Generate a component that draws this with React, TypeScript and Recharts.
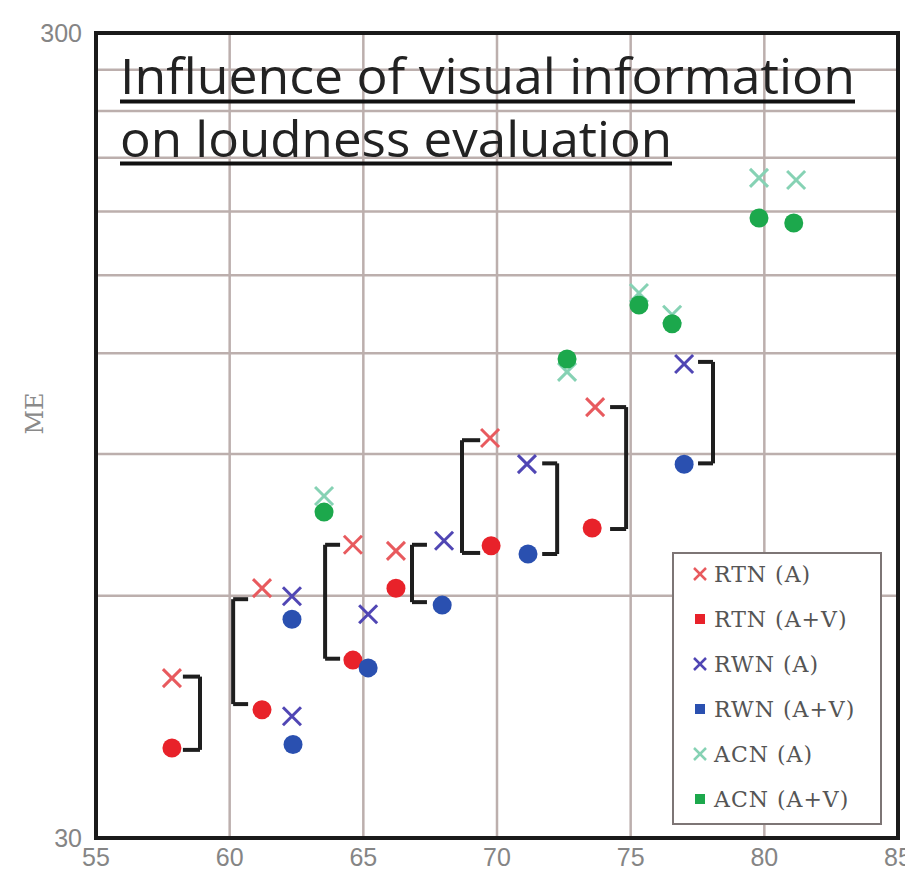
import React from 'react';
import { ScatterChart, Scatter, XAxis, YAxis, CartesianGrid, ReferenceLine, ReferenceArea } from 'recharts';

const xTicks = [55, 60, 65, 70, 75, 80, 85];
const yTicks = [30, 60, 90, 120, 150, 180, 210, 240, 270, 300];
const yLabelTicks = [30, 300];

const rtnA = [
  { x: 57.84, y: 47.4 }, { x: 61.21, y: 61.3 }, { x: 64.61, y: 69.4 },
  { x: 66.22, y: 68.2 }, { x: 69.74, y: 94.2 }, { x: 73.67, y: 102.9 },
];
const rtnAV = [
  { x: 57.84, y: 38.8 }, { x: 61.21, y: 43.3 }, { x: 64.61, y: 49.9 },
  { x: 66.22, y: 61.3 }, { x: 69.78, y: 69.2 }, { x: 73.56, y: 72.8 },
];
const rwnA = [
  { x: 62.33, y: 59.9 }, { x: 62.33, y: 42.5 }, { x: 65.18, y: 56.9 },
  { x: 68.02, y: 70.2 }, { x: 71.12, y: 87.4 }, { x: 77.0, y: 116.4 },
];
const rwnAV = [
  { x: 62.33, y: 56.1 }, { x: 62.37, y: 39.2 }, { x: 65.18, y: 48.8 },
  { x: 67.95, y: 58.4 }, { x: 71.16, y: 67.6 }, { x: 77.0, y: 87.4 },
];
const acnA = [
  { x: 63.53, y: 79.8 }, { x: 72.62, y: 113.8 }, { x: 75.31, y: 142.6 },
  { x: 76.55, y: 134.0 }, { x: 79.8, y: 198.2 }, { x: 81.19, y: 197.0 },
];
const acnAV = [
  { x: 63.53, y: 76.2 }, { x: 72.62, y: 118.1 }, { x: 75.31, y: 137.8 },
  { x: 76.55, y: 130.6 }, { x: 79.8, y: 176.7 }, { x: 81.1, y: 174.2 },
];

// brackets: spine x, arm end x, top y, bottom y
const bracketSpineX = [58.89, 60.13, 63.57, 66.82, 68.69, 72.25, 74.83, 78.08];
const bracketArmX = [58.25, 60.69, 64.13, 67.38, 69.37, 71.69, 74.23, 77.52];
const bracketTop = [47.6, 59.4, 69.4, 69.4, 93.6, 87.6, 102.9, 117.1];
const bracketBottom = [38.6, 44.0, 50.1, 58.9, 67.8, 67.6, 72.6, 87.6];

const titleLines = ['Influence of visual information', 'on loudness evaluation'];
const legendItems = [
  { name: 'RTN (A)', color: '#e85a5e', kind: 'x' },
  { name: 'RTN (A+V)', color: '#e8222a', kind: 'sq' },
  { name: 'RWN (A)', color: '#5046b4', kind: 'x' },
  { name: 'RWN (A+V)', color: '#2a50b0', kind: 'sq' },
  { name: 'ACN (A)', color: '#86d2b4', kind: 'x' },
  { name: 'ACN (A+V)', color: '#1ca84c', kind: 'sq' },
];

const makeCross = (color: string) => (props: any) => {
  const { cx, cy } = props;
  const s = 9;
  return (
    <g>
      <line x1={cx - s} y1={cy - s} x2={cx + s} y2={cy + s} stroke={color} strokeWidth={3} />
      <line x1={cx - s} y1={cy + s} x2={cx + s} y2={cy - s} stroke={color} strokeWidth={3} />
    </g>
  );
};
const makeDot = (color: string) => (props: any) => {
  const { cx, cy } = props;
  return <circle cx={cx} cy={cy} r={9.5} fill={color} />;
};

const YLabel = (props: any) => {
  const { viewBox } = props;
  const x = viewBox.x + 36;
  const y = viewBox.y + viewBox.height / 2 - 22;
  return (
    <text x={x} y={y} transform={`rotate(-90 ${x} ${y})`} textAnchor="middle" dominantBaseline="middle"
      fontFamily="'DejaVu Serif', serif" fontSize={24} fill="#8a8a8a">ME</text>
  );
};

export default function App() {
  const tickStyle = { fontFamily: "'Liberation Sans', sans-serif", fontSize: 25, fill: '#858585' };
  return (
    <div style={{ position: 'absolute', left: 0, top: 0, width: 905, height: 872, background: '#fff', overflow: 'hidden' }}>
      <ScatterChart width={905} height={872} margin={{ top: 33, right: 7, bottom: 0, left: 0 }}>
        <CartesianGrid stroke="#bcafad" strokeWidth={2.5} />
        <XAxis type="number" dataKey="x" domain={[55, 85]} ticks={xTicks} tickLine={false} axisLine={false}
          tickSize={0} tickMargin={10} height={34} tick={tickStyle} interval={0} />
        <YAxis type="number" dataKey="y" scale="log" domain={[30, 300]} ticks={yTicks} allowDataOverflow
          tickLine={false} axisLine={false} tickSize={0} tickMargin={14} width={96} interval={0}
          tick={tickStyle}
          tickFormatter={(v: number) => (yLabelTicks.includes(v) ? String(v) : '')}
          label={<YLabel />} />
        <ReferenceArea x1={55} x2={85} y1={30} y2={300} fill="none" stroke="#1a1a1a" strokeWidth={4} ifOverflow="visible" />
        {bracketSpineX.map((bx, i) => (
          <React.Fragment key={'b' + i}>
            <ReferenceLine segment={[{ x: bx, y: bracketTop[i] }, { x: bx, y: bracketBottom[i] }]} stroke="#1e1e1e" strokeWidth={4} ifOverflow="visible" />
            <ReferenceLine segment={[{ x: bx, y: bracketTop[i] }, { x: bracketArmX[i], y: bracketTop[i] }]} stroke="#1e1e1e" strokeWidth={4} ifOverflow="visible" />
            <ReferenceLine segment={[{ x: bx, y: bracketBottom[i] }, { x: bracketArmX[i], y: bracketBottom[i] }]} stroke="#1e1e1e" strokeWidth={4} ifOverflow="visible" />
          </React.Fragment>
        ))}
        <Scatter name="ACN (A)" data={acnA} shape={makeCross('#86d2b4')} isAnimationActive={false} />
        <Scatter name="ACN (A+V)" data={acnAV} shape={makeDot('#1ca84c')} isAnimationActive={false} />
        <Scatter name="RTN (A)" data={rtnA} shape={makeCross('#e85a5e')} isAnimationActive={false} />
        <Scatter name="RTN (A+V)" data={rtnAV} shape={makeDot('#e8222a')} isAnimationActive={false} />
        <Scatter name="RWN (A)" data={rwnA} shape={makeCross('#5046b4')} isAnimationActive={false} />
        <Scatter name="RWN (A+V)" data={rwnAV} shape={makeDot('#2a50b0')} isAnimationActive={false} />
      </ScatterChart>
      <svg width={905} height={872} style={{ position: 'absolute', left: 0, top: 0, pointerEvents: 'none' }}>
        <text x={120} y={94} fontFamily="'Open Sans', sans-serif" fontSize={50} fill="#222" textLength={735} lengthAdjust="spacingAndGlyphs">{titleLines[0]}</text>
        <line x1={120} y1={101.5} x2={855} y2={101.5} stroke="#111" strokeWidth={4} />
        <text x={120} y={157} fontFamily="'Open Sans', sans-serif" fontSize={50} fill="#222" textLength={552} lengthAdjust="spacingAndGlyphs">{titleLines[1]}</text>
        <line x1={120} y1={163.5} x2={672} y2={163.5} stroke="#111" strokeWidth={4} />
      </svg>
      <div style={{ position: 'absolute', left: 672, top: 552, width: 206, height: 269, border: '2.5px solid #7d7575', background: '#fff', boxSizing: 'content-box' }}>
        {legendItems.map((it, i) => (
          <div key={it.name} style={{ position: 'absolute', left: 0, top: 5 + i * 45, height: 30, display: 'flex', alignItems: 'center' }}>
            <svg width={40} height={30}>
              {it.kind === 'x' ? (
                <g stroke={it.color} strokeWidth={2.5}>
                  <line x1={20} y1={9} x2={32} y2={21} />
                  <line x1={20} y1={21} x2={32} y2={9} />
                </g>
              ) : (
                <rect x={21} y={10} width={10} height={10} fill={it.color} />
              )}
            </svg>
            <span style={{ fontFamily: "'DejaVu Serif', serif", fontSize: 22, color: '#555', letterSpacing: 1, whiteSpace: 'nowrap' }}>{it.name}</span>
          </div>
        ))}
      </div>
    </div>
  );
}
